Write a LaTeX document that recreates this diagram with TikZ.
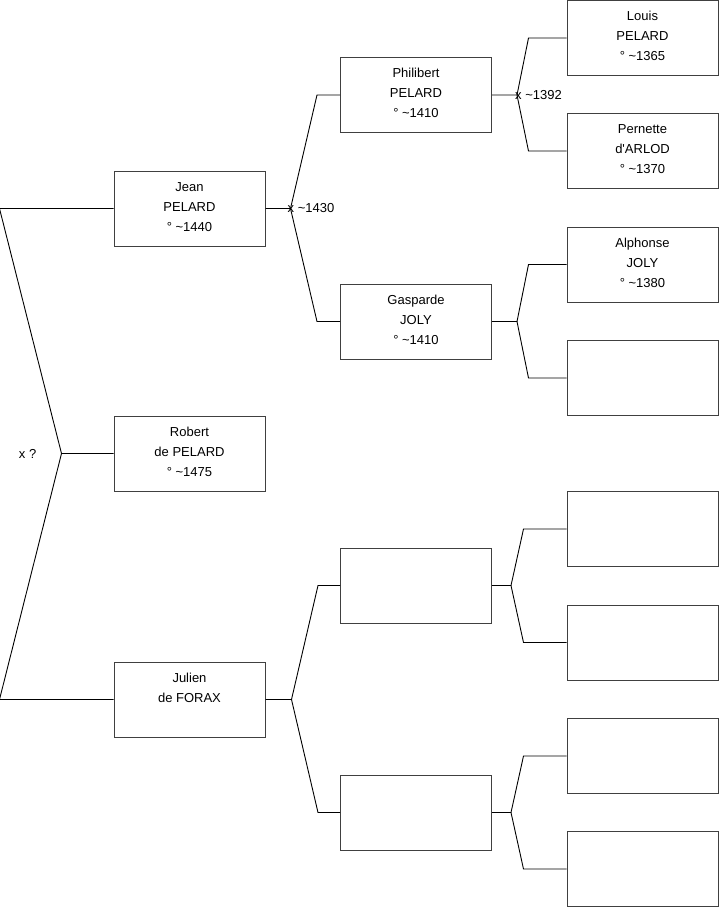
\documentclass[tikz,border=0pt]{standalone}
\usepackage{fontspec}
\setmainfont{Liberation Sans}
\usetikzlibrary{positioning}
\newcommand{\who}[1]{\parbox[c][75pt][t]{151pt}{\centering\rule{0pt}{20pt}#1}}

\begin{document}
\begin{tikzpicture}[x=1pt, y=-1pt,
    person/.style={draw=black!75, line width=1pt, minimum width=151pt, minimum height=75pt, inner sep=0pt, font=\fontsize{13}{20}\selectfont},
    link/.style={line width=0.9pt},
    note/.style={font=\fontsize{13}{14}\selectfont, inner sep=0pt}
]
\useasboundingbox (0,0) rectangle (719,908);

% generation 1
\node[person] (jean) at (189.5,208.5) {\who{Jean\\PELARD\\° \textasciitilde1440}};
\node[person] (robert) at (189.5,453.5) {\who{Robert\\de PELARD\\° \textasciitilde1475}};
\node[person] (julien) at (189.5,699.5) {\who{Julien\\de FORAX}};

% generation 2
\node[person] (phil) at (416,95) {\who{Philibert\\PELARD\\° \textasciitilde1410}};
\node[person] (gasp) at (416,321.5) {\who{Gasparde\\JOLY\\° \textasciitilde1410}};
\node[person] (blankA) at (416,585.5) {};
\node[person] (blankB) at (416,812.5) {};

% generation 3
\node[person] (louis) at (642.5,38) {\who{Louis\\PELARD\\° \textasciitilde1365}};
\node[person] (pern) at (642.5,151) {\who{Pernette\\d\textquotesingle ARLOD\\° \textasciitilde1370}};
\node[person] (alph) at (642.5,264.5) {\who{Alphonse\\JOLY\\° \textasciitilde1380}};
\node[person] (blankC) at (642.5,378) {};
\node[person] (blankD) at (642.5,529) {};
\node[person] (blankE) at (642.5,642.5) {};
\node[person] (blankF) at (642.5,756) {};
\node[person] (blankG) at (642.5,869) {};

% siblings
\draw[link] (jean.west) -- ++(-114,0) -- ([xshift=-52]robert.west) coordinate (mid) -- (robert.west);
\draw[link] (mid) -- ([xshift=-114]julien.west) -- (julien.west);
\node[note, left=25pt of mid] (union) {x ?};

% parents
\foreach \p/\a/\b/\h/\d in {jean/phil/gasp/25/23, julien/blankA/blankB/26/22,
    phil/louis/pern/25/38, gasp/alph/blankC/25/38,
    blankA/blankD/blankE/19/43, blankB/blankF/blankG/19/43}{
  \draw[link] (\p.east) -- ++(\h,0) coordinate (fork-\p) -- ([xshift=-\d]\a.west) -- (\a.west);
  \draw[link] (fork-\p) -- ([xshift=-\d]\b.west) -- (\b.west);
}

\node[note, anchor=west] (wed1430) at ([xshift=-3]fork-jean) {x \textasciitilde1430};
\node[note, anchor=west] (wed1392) at ([xshift=-2]fork-phil) {x \textasciitilde1392};
\end{tikzpicture}
\end{document}
